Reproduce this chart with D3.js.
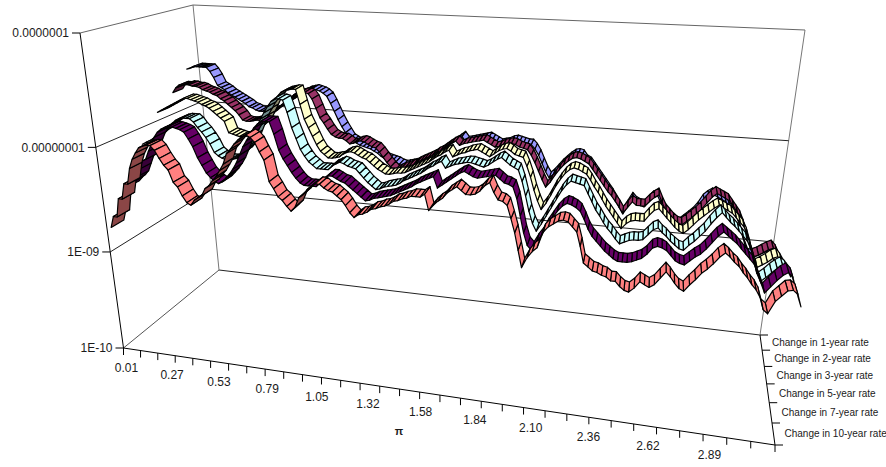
<!DOCTYPE html>
<html>
<head>
<meta charset="utf-8">
<style>
  html, body { margin: 0; padding: 0; background: #fff; }
  svg { display: block; }
  text { font-family: "Liberation Sans", Arial, sans-serif; fill: #1a1a1a; }
</style>
<script src="https://d3js.org/d3.v7.min.js"></script>
</head>
<body>
<svg id="chart" width="886" height="467"></svg>
<script>
`use strict`;

// log10 of the value at every category, front ribbon first
const rate10 = [
  -8.78,-8.67,-8.67,-8.49,-8.49,-8.34,-8.34,-8.19,-8.10,-8.04,
  -7.99,-7.97,-7.96,-7.96,-8.00,-8.07,-8.13,-8.17,-8.28,-8.32,
  -8.40,-8.46,-8.48,-8.43,-8.40,-8.38,-8.31,-8.28,-8.23,-8.19,
  -8.13,-8.07,-7.97,-7.93,-7.88,-7.84,-7.81,-7.79,-7.81,-7.85,
  -7.93,-8.00,-8.19,-8.25,-8.32,-8.35,-8.40,-8.44,-8.40,-8.31,
  -8.28,-8.23,-8.20,-8.17,-8.17,-8.20,-8.22,-8.23,-8.26,-8.29,
  -8.34,-8.40,-8.44,-8.41,-8.40,-8.38,-8.35,-8.34,-8.32,-8.31,
  -8.29,-8.26,-8.25,-8.23,-8.22,-8.20,-8.20,-8.20,-8.17,-8.31,
  -8.26,-8.22,-8.19,-8.14,-8.11,-8.08,-8.11,-8.14,-8.14,-8.13,
  -8.10,-8.05,-8.02,-8.10,-8.16,-8.17,-8.20,-8.31,-8.43,-8.58,
  -8.73,-8.64,-8.58,-8.54,-8.40,-8.35,-8.32,-8.29,-8.28,-8.29,
  -8.33,-8.37,-8.49,-8.63,-8.66,-8.69,-8.70,-8.72,-8.73,-8.76,
  -8.76,-8.80,-8.83,-8.84,-8.80,-8.74,-8.76,-8.78,-8.75,-8.69,
  -8.63,-8.67,-8.72,-8.76,-8.78,-8.72,-8.67,-8.61,-8.57,-8.52,
  -8.46,-8.42,-8.45,-8.49,-8.52,-8.57,-8.61,-8.66,-8.70,-8.76,
  -8.86,-8.89,-8.78,-8.73,-8.68,-8.67,-8.70,-8.80
];
const rate7 = [
  -8.49,-8.45,-8.42,-8.38,-8.30,-8.22,-8.20,-8.12,-8.05,-7.98,
  -7.93,-7.90,-7.88,-7.87,-7.87,-7.88,-7.89,-7.91,-7.97,-8.04,
  -8.14,-8.21,-8.28,-8.32,-8.35,-8.37,-8.35,-8.31,-8.27,-8.22,
  -8.16,-8.08,-8.00,-7.94,-7.88,-7.82,-7.78,-7.75,-7.75,-7.75,
  -7.86,-8.00,-8.08,-8.14,-8.20,-8.25,-8.29,-8.31,-8.31,-8.31,
  -8.31,-8.27,-8.23,-8.20,-8.20,-8.22,-8.24,-8.25,-8.28,-8.31,
  -8.34,-8.37,-8.40,-8.39,-8.37,-8.36,-8.35,-8.34,-8.33,-8.31,
  -8.29,-8.27,-8.25,-8.23,-8.20,-8.18,-8.16,-8.14,-8.12,-8.22,
  -8.19,-8.16,-8.13,-8.10,-8.07,-8.05,-8.07,-8.09,-8.10,-8.09,
  -8.08,-8.07,-8.06,-8.09,-8.12,-8.13,-8.15,-8.25,-8.40,-8.55,
  -8.66,-8.70,-8.62,-8.56,-8.47,-8.40,-8.33,-8.28,-8.25,-8.26,
  -8.28,-8.31,-8.38,-8.46,-8.52,-8.56,-8.60,-8.64,-8.67,-8.70,
  -8.72,-8.72,-8.72,-8.71,-8.69,-8.67,-8.63,-8.57,-8.55,-8.56,
  -8.58,-8.62,-8.66,-8.68,-8.69,-8.65,-8.61,-8.58,-8.53,-8.47,
  -8.41,-8.37,-8.40,-8.43,-8.46,-8.50,-8.54,-8.58,-8.62,-8.70,
  -8.78,-8.86,-8.80,-8.74,-8.69,-8.66,-8.70,-8.80
];
const rate5 = [
  -8.16,-8.14,-8.14,-8.10,-8.07,-8.04,-8.02,-7.99,-7.96,-7.93,
  -7.90,-7.88,-7.87,-7.87,-7.87,-7.90,-7.95,-7.99,-8.04,-8.10,
  -8.18,-8.21,-8.23,-8.24,-8.24,-8.23,-8.22,-8.18,-8.15,-8.11,
  -8.07,-7.98,-7.90,-7.82,-7.76,-7.70,-7.65,-7.62,-7.62,-7.63,
  -7.74,-7.88,-7.98,-8.08,-8.14,-8.19,-8.22,-8.25,-8.25,-8.25,
  -8.25,-8.21,-8.19,-8.17,-8.18,-8.20,-8.21,-8.22,-8.26,-8.30,
  -8.34,-8.37,-8.40,-8.39,-8.37,-8.36,-8.35,-8.34,-8.32,-8.29,
  -8.27,-8.25,-8.23,-8.21,-8.18,-8.15,-8.13,-8.10,-8.08,-8.14,
  -8.12,-8.10,-8.09,-8.08,-8.07,-8.07,-8.08,-8.09,-8.10,-8.08,
  -8.05,-8.02,-8.00,-8.03,-8.06,-8.08,-8.10,-8.20,-8.33,-8.47,
  -8.58,-8.65,-8.58,-8.50,-8.42,-8.34,-8.26,-8.20,-8.16,-8.17,
  -8.18,-8.19,-8.26,-8.33,-8.40,-8.45,-8.51,-8.56,-8.60,-8.65,
  -8.69,-8.67,-8.65,-8.64,-8.64,-8.63,-8.58,-8.53,-8.51,-8.55,
  -8.58,-8.62,-8.65,-8.68,-8.69,-8.64,-8.60,-8.55,-8.50,-8.43,
  -8.37,-8.32,-8.36,-8.40,-8.43,-8.47,-8.51,-8.55,-8.62,-8.72,
  -8.83,-8.90,-8.86,-8.81,-8.77,-8.74,-8.77,-8.83
];
const rate3 = [
  -7.92,-7.90,-7.88,-7.86,-7.84,-7.82,-7.80,-7.78,-7.76,-7.76,
  -7.77,-7.78,-7.79,-7.81,-7.82,-7.84,-7.87,-7.90,-7.93,-7.96,
  -8.07,-8.08,-8.09,-8.10,-8.10,-8.09,-8.07,-8.04,-8.01,-7.98,
  -7.94,-7.87,-7.80,-7.73,-7.68,-7.64,-7.62,-7.61,-7.60,-7.60,
  -7.74,-7.88,-7.96,-8.04,-8.12,-8.18,-8.21,-8.24,-8.24,-8.23,
  -8.22,-8.19,-8.17,-8.16,-8.17,-8.19,-8.21,-8.22,-8.25,-8.28,
  -8.31,-8.33,-8.35,-8.35,-8.34,-8.33,-8.33,-8.32,-8.30,-8.28,
  -8.26,-8.24,-8.22,-8.20,-8.17,-8.14,-8.12,-8.09,-8.07,-8.13,
  -8.11,-8.09,-8.08,-8.06,-8.05,-8.04,-8.06,-8.08,-8.10,-8.07,
  -8.04,-8.02,-8.01,-8.03,-8.06,-8.07,-8.08,-8.16,-8.26,-8.38,
  -8.48,-8.56,-8.50,-8.42,-8.33,-8.26,-8.20,-8.16,-8.14,-8.15,
  -8.17,-8.19,-8.24,-8.30,-8.35,-8.41,-8.47,-8.52,-8.57,-8.62,
  -8.67,-8.62,-8.59,-8.58,-8.58,-8.58,-8.52,-8.47,-8.45,-8.49,
  -8.53,-8.57,-8.61,-8.64,-8.66,-8.62,-8.57,-8.52,-8.48,-8.44,
  -8.40,-8.37,-8.39,-8.41,-8.43,-8.47,-8.51,-8.55,-8.62,-8.72,
  -8.83,-8.91,-8.88,-8.85,-8.81,-8.79,-8.83,-8.89
];
const rate2 = [
  -7.79,-7.74,-7.71,-7.71,-7.70,-7.70,-7.71,-7.71,-7.72,-7.74,
  -7.75,-7.76,-7.78,-7.79,-7.82,-7.84,-7.87,-7.90,-7.93,-7.97,
  -8.02,-8.03,-8.03,-8.02,-8.01,-8.01,-8.00,-7.97,-7.94,-7.91,
  -7.88,-7.85,-7.82,-7.79,-7.76,-7.73,-7.71,-7.70,-7.70,-7.71,
  -7.76,-7.85,-7.94,-7.99,-8.05,-8.10,-8.12,-8.13,-8.13,-8.15,
  -8.18,-8.17,-8.15,-8.14,-8.15,-8.17,-8.19,-8.20,-8.24,-8.29,
  -8.34,-8.38,-8.42,-8.40,-8.38,-8.37,-8.35,-8.34,-8.31,-8.29,
  -8.27,-8.25,-8.23,-8.20,-8.18,-8.15,-8.12,-8.09,-8.07,-8.11,
  -8.09,-8.08,-8.07,-8.06,-8.05,-8.04,-8.06,-8.08,-8.10,-8.09,
  -8.07,-8.06,-8.05,-8.06,-8.08,-8.09,-8.10,-8.15,-8.22,-8.30,
  -8.38,-8.45,-8.40,-8.33,-8.27,-8.22,-8.18,-8.15,-8.14,-8.15,
  -8.17,-8.19,-8.24,-8.29,-8.34,-8.39,-8.44,-8.48,-8.53,-8.58,
  -8.64,-8.58,-8.52,-8.55,-8.55,-8.55,-8.50,-8.46,-8.43,-8.51,
  -8.58,-8.62,-8.66,-8.69,-8.70,-8.66,-8.62,-8.58,-8.53,-8.47,
  -8.41,-8.37,-8.39,-8.41,-8.43,-8.48,-8.53,-8.58,-8.66,-8.76,
  -8.86,-8.94,-8.92,-8.89,-8.86,-8.84,-8.88,-8.95
];
const rate1 = [
  -7.61,-7.60,-7.58,-7.58,-7.58,-7.58,-7.58,-7.62,-7.68,-7.76,
  -7.78,-7.80,-7.83,-7.85,-7.87,-7.89,-7.91,-7.93,-7.96,-7.97,
  -7.99,-8.00,-8.00,-7.99,-7.98,-7.98,-7.97,-7.94,-7.92,-7.90,
  -7.88,-7.85,-7.82,-7.79,-7.77,-7.75,-7.74,-7.73,-7.74,-7.75,
  -7.77,-7.80,-7.87,-7.95,-8.03,-8.10,-8.16,-8.22,-8.24,-8.26,
  -8.28,-8.29,-8.30,-8.31,-8.33,-8.35,-8.38,-8.40,-8.41,-8.42,
  -8.43,-8.45,-8.46,-8.45,-8.44,-8.43,-8.41,-8.40,-8.38,-8.36,
  -8.33,-8.31,-8.28,-8.26,-8.23,-8.20,-8.17,-8.14,-8.11,-8.16,
  -8.15,-8.14,-8.13,-8.12,-8.11,-8.10,-8.12,-8.14,-8.16,-8.15,
  -8.14,-8.12,-8.11,-8.12,-8.13,-8.14,-8.14,-8.18,-8.24,-8.32,
  -8.40,-8.46,-8.42,-8.37,-8.32,-8.28,-8.24,-8.21,-8.20,-8.21,
  -8.26,-8.28,-8.33,-8.38,-8.43,-8.48,-8.53,-8.58,-8.64,-8.70,
  -8.76,-8.68,-8.60,-8.64,-8.66,-8.67,-8.62,-8.57,-8.55,-8.62,
  -8.69,-8.73,-8.77,-8.80,-8.82,-8.78,-8.74,-8.70,-8.64,-8.56,
  -8.52,-8.49,-8.51,-8.53,-8.55,-8.60,-8.65,-8.70,-8.78,-8.89,
  -8.99,-9.07,-9.07,-9.05,-9.02,-9.00,-9.04,-9.10
];

const seriesNames = [`Change in 10-year rate`, `Change in 7-year rate`, `Change in 5-year rate`,
  `Change in 3-year rate`, `Change in 2-year rate`, `Change in 1-year rate`];
const seriesValues = [rate10, rate7, rate5, rate3, rate2, rate1];
const seriesColors = [`#FF8080`, `#660066`, `#CCFFFF`, `#FFFFCC`, `#993366`, `#9999FF`];

const xLabels = [`0.01`, `0.27`, `0.53`, `0.79`, `1.05`, `1.32`, `1.58`, `1.84`, `2.10`, `2.36`, `2.62`, `2.89`];
const yTicks = [1e-10, 1e-9, 1e-8, 1e-7];
const yLabels = [`1E-10`, `1E-09`, `0.00000001`, `0.0000001`];

// corners of the box as seen on the page, [u, v, w] -> px
const corners = {
  "000": [123.5, 348], "100": [775, 445], "010": [219, 270], "110": [760, 335],
  "001": [80, 33], "101": [848, 80], "011": [193, 5], "111": [805, 30]
};

let xScale = d3.scaleLinear().domain([0, 157]).range([0, 1]);
let zScale = d3.scaleBand().domain(d3.range(seriesNames.length)).range([0, 1]);
let yScale = d3.scaleLog().domain([1e-10, 1e-7]).range([0, 1]);

let persp = (a, k) => a / (a + k * (1 - a));

let project = (u, v, w) => {

  let a = persp(u, 1.2), b = persp(v, .8), c = persp(w, 1.14);

  let pt = [0, 0];

  [0, 1].forEach(i => [0, 1].forEach(j => [0, 1].forEach(l => {

    let f = (i ? a : 1 - a) * (j ? b : 1 - b) * (l ? c : 1 - c);
    let p = corners[`${i}${j}${l}`];

    pt[0] += f * p[0];
    pt[1] += f * p[1];
  })));

  return pt;
};

let svg = d3.select(`#chart`);

let line = (g, a, b, color) => g.append(`line`)
  .attr(`x1`, a[0]).attr(`y1`, a[1])
  .attr(`x2`, b[0]).attr(`y2`, b[1])
  .attr(`stroke`, color)
  .style(`stroke-width`, 1);

// walls
let walls = svg.append(`g`).attr(`class`, `walls`);

line(walls, project(0, 0, 0), project(0, 1, 0), `#555`);
line(walls, project(0, 1, 0), project(1, 1, 0), `#222`);
line(walls, project(0, 1, 0), project(0, 1, 1), `#777`);
line(walls, project(1, 1, 0), project(1, 1, 1), `#777`);

yTicks.slice(1).forEach(d => {

  let w = yScale(d), color = d === 1e-7 ? `#666` : `#222`;

  line(walls, project(0, 0, w), project(0, 1, w), color);
  line(walls, project(0, 1, w), project(1, 1, w), color);
});

// ribbons, back one first
let ribbons = svg.append(`g`).attr(`class`, `ribbons`);

d3.range(seriesValues.length).reverse().forEach(s => {

  let values = seriesValues[s];

  let v0 = zScale(s) + zScale.bandwidth() * .19,
    v1 = zScale(s) + zScale.bandwidth() * .81;

  let base = d3.rgb(seriesColors[s]);
  let under = base.darker(1.7);

  let order = d3.range(values.length - 1)
    .sort((p, q) => Math.abs(q - 65) - Math.abs(p - 65));

  let quads = order.map(i => {

    let w0 = yScale(10 ** values[i]), w1 = yScale(10 ** values[i + 1]);
    let u0 = xScale(i), u1 = xScale(i + 1);

    return [project(u0, v0, w0), project(u1, v0, w1), project(u1, v1, w1), project(u0, v1, w0)];
  });

  ribbons.append(`g`).selectAll(`path`).data(quads)
    .enter()
    .append(`path`)
    .attr(`d`, d => `M` + d.join(`L`) + `Z`)
    .attr(`fill`, d => d3.polygonArea(d) > 0 ? base : under)
    .attr(`stroke`, `#000`)
    .attr(`stroke-linejoin`, `round`)
    .style(`stroke-width`, 1.2);
});

// axes in front
let axes = svg.append(`g`).attr(`class`, `axes`);

line(axes, project(0, 0, 0), project(0, 0, 1), `#000`);
line(axes, project(0, 0, 0), project(1, 0, 0), `#000`);
line(axes, project(1, 0, 0), project(1, 1, 0), `#000`);

yTicks.forEach((d, i) => {

  let p = project(0, 0, yScale(d));

  line(axes, [p[0] - 8, p[1]], p, `#000`);

  axes.append(`text`)
    .attr(`x`, p[0] - 11)
    .attr(`y`, p[1])
    .attr(`dy`, `.35em`)
    .attr(`text-anchor`, `end`)
    .style(`font-size`, `12px`)
    .text(yLabels[i]);
});

d3.range(33).forEach(j => {

  let p = project(j / 32, 0, 0);

  line(axes, p, [p[0], p[1] + 7], `#000`);
});

xLabels.forEach((d, i) => {

  let p = project(xScale(i * 13), 0, 0);

  axes.append(`text`)
    .attr(`x`, p[0] + 3)
    .attr(`y`, p[1] + 20)
    .attr(`dy`, `.35em`)
    .attr(`text-anchor`, `middle`)
    .style(`font-size`, `12px`)
    .text(d);
});

d3.range(seriesNames.length + 1).forEach(s => {

  let p = project(1, s / seriesNames.length, 0);

  line(axes, p, [p[0] + 8, p[1]], `#000`);
});

seriesNames.forEach((d, s) => {

  let p = project(1, zScale(s) + zScale.bandwidth() / 2, 0);

  axes.append(`text`)
    .attr(`x`, p[0] + 11)
    .attr(`y`, p[1])
    .attr(`dy`, `.35em`)
    .style(`font-size`, `10px`)
    .text(d);
});

axes.append(`text`)
  .attr(`x`, 399)
  .attr(`y`, 431)
  .attr(`dy`, `.35em`)
  .attr(`text-anchor`, `middle`)
  .style(`font-size`, `11px`)
  .style(`font-weight`, `bold`)
  .text(`π`);
</script>
</body>
</html>
